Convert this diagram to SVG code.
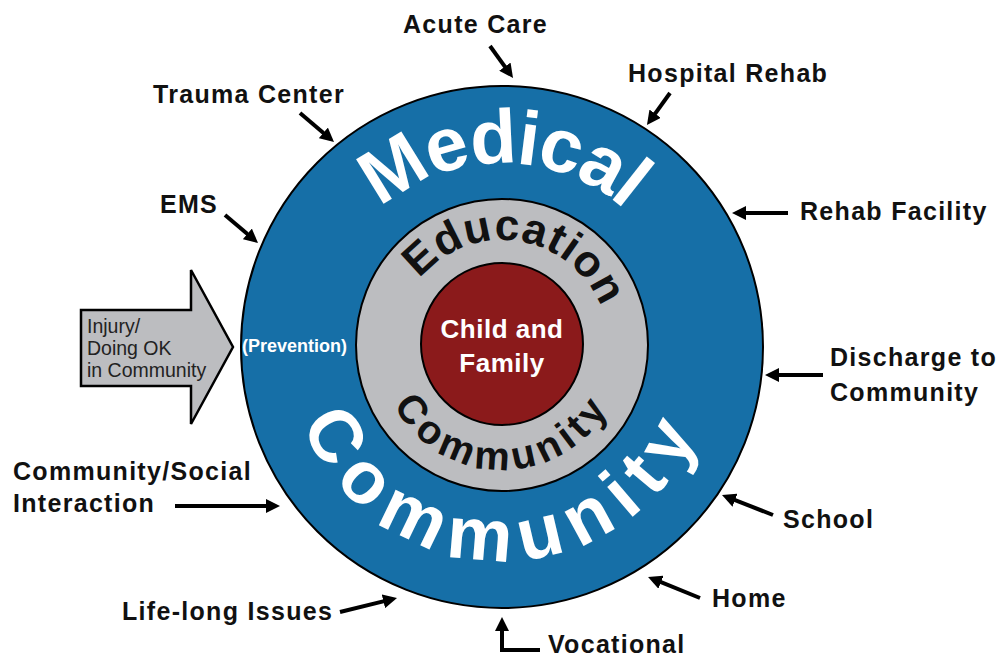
<svg xmlns="http://www.w3.org/2000/svg" width="998" height="657" viewBox="0 0 998 657">
  <defs>
    <style>
      .label { font-family: "Liberation Sans", Arial, sans-serif; font-weight: bold; font-size: 25px; fill: #111; letter-spacing: 1.3px; }
      .conn { fill: none; stroke: #000; stroke-width: 4; marker-end: url(#head); }
      .ring { stroke: #000; stroke-width: 2; }
      .big { font-family: "Liberation Sans", Arial, sans-serif; font-weight: bold; fill: #fff; }
      .mid { font-family: "Liberation Sans", Arial, sans-serif; font-weight: bold; fill: #111; }
    </style>
    <marker id="head" viewBox="0 0 14 14" markerWidth="14" markerHeight="14" refX="4" refY="7" orient="auto" markerUnits="userSpaceOnUse">
      <path d="M0,0 L14,7 L0,14 z" fill="#000"/>
    </marker>
    <!-- arcs for curved lettering, all around the common centre (502,347) -->
    <path id="arcMedical" d="M318,347 A184,184 0 0 1 686,347"/>
    <path id="arcCommunityOuter" d="M288,347 A214,214 0 0 0 716,347"/>
    <path id="arcEducation" d="M395,347 A107,107 0 0 1 609,347"/>
    <path id="arcCommunityInner" d="M379,347 A123,123 0 0 0 625,347"/>
  </defs>

  <g id="medical-ring">
    <circle class="ring" cx="502" cy="347" r="261" fill="#166fa7"/>
    <text class="big" font-size="76" letter-spacing="-2"><textPath href="#arcMedical" startOffset="50%" text-anchor="middle">Medical</textPath></text>
    <text class="big" font-size="74" letter-spacing="12"><textPath href="#arcCommunityOuter" startOffset="50%" text-anchor="middle">Community</textPath></text>
    <text class="big" x="242" y="352" font-size="18">(Prevention)</text>
  </g>

  <g id="education-ring">
    <circle class="ring" cx="502" cy="345" r="146" fill="#bcbdc0"/>
    <g transform="rotate(9 502 347)">
      <text class="mid" font-size="44" letter-spacing="1"><textPath href="#arcEducation" startOffset="50%" text-anchor="middle">Education</textPath></text>
    </g>
    <text class="mid" font-size="40" letter-spacing="5"><textPath href="#arcCommunityInner" startOffset="50%" text-anchor="middle">Community</textPath></text>
  </g>

  <g id="child-family">
    <circle class="ring" cx="502" cy="344" r="81" fill="#8b1a1b"/>
    <text class="big" font-size="26" text-anchor="middle" letter-spacing="0.5"><tspan x="502" y="338">Child and</tspan><tspan x="502" y="372">Family</tspan></text>
  </g>

  <g id="injury-arrow">
    <path d="M81,310 H191 V270 L233,347 L191,424 V386 H81 Z" fill="#bcbdc0" stroke="#000" stroke-width="2.5"/>
    <text font-family="Liberation Sans, Arial, sans-serif" font-size="19.5" fill="#222"><tspan x="87" y="333">Injury/</tspan><tspan x="87" y="355">Doing OK</tspan><tspan x="87" y="377">in Community</tspan></text>
  </g>

  <g id="acute-care"><text class="label" x="403" y="33">Acute Care</text></g>
  <g id="hospital-rehab"><text class="label" x="628" y="82">Hospital Rehab</text></g>
  <g id="trauma-center"><text class="label" x="153" y="103">Trauma Center</text></g>
  <g id="ems"><text class="label" x="160" y="213">EMS</text></g>
  <g id="rehab-facility"><text class="label" x="800" y="220">Rehab Facility</text></g>
  <g id="discharge"><text class="label"><tspan x="830" y="366">Discharge to</tspan><tspan x="830" y="401">Community</tspan></text></g>
  <g id="school"><text class="label" x="783" y="528">School</text></g>
  <g id="home"><text class="label" x="712" y="607">Home</text></g>
  <g id="vocational"><text class="label" x="548" y="653">Vocational</text></g>
  <g id="life-long"><text class="label" x="122" y="620">Life-long Issues</text></g>
  <g id="social"><text class="label"><tspan x="13" y="480">Community/Social</tspan><tspan x="13" y="512">Interaction</tspan></text></g>

  <g id="connectors">
    <line class="conn" x1="490" y1="46" x2="507.2" y2="69.9"/>
    <line class="conn" x1="670" y1="93" x2="652.8" y2="116.9"/>
    <line class="conn" x1="300" y1="113" x2="326.4" y2="135.5"/>
    <line class="conn" x1="225" y1="215" x2="250.4" y2="236.5"/>
    <line class="conn" x1="788" y1="213" x2="742" y2="213"/>
    <line class="conn" x1="823" y1="375" x2="775" y2="375"/>
    <line class="conn" x1="773" y1="515" x2="731.3" y2="498.7"/>
    <line class="conn" x1="700" y1="598" x2="657.3" y2="580.7"/>
    <path class="conn" d="M540,650 H502 V627"/>
    <line class="conn" x1="340" y1="612" x2="387.3" y2="600.4"/>
    <line class="conn" x1="175" y1="506" x2="270" y2="506"/>
  </g>
</svg>
